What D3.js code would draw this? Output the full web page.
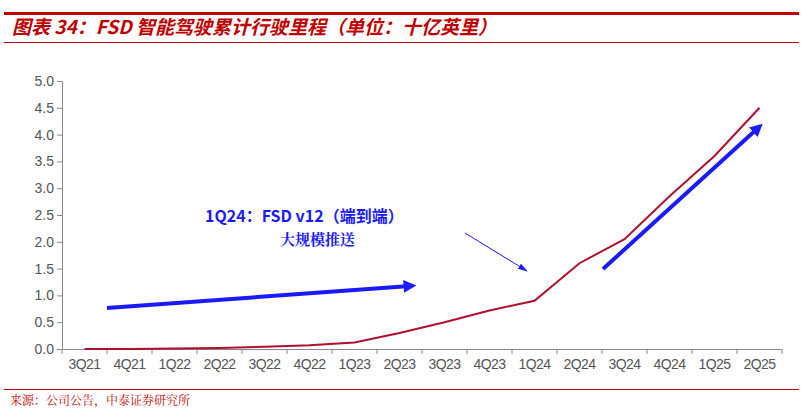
<!DOCTYPE html><html><head><meta charset="utf-8"><script src="https://d3js.org/d3.v7.min.js"></script>
<style>body{margin:0;background:#fff}</style></head><body><svg id="c" width="803" height="412"></svg>
<script>
const categories=["3Q21","4Q21","1Q22","2Q22","3Q22","4Q22","1Q23","2Q23","3Q23","4Q23","1Q24","2Q24","3Q24","4Q24","1Q25","2Q25"];
const values=[0,0,0.01,0.02,0.04,0.07,0.12,0.3,0.5,0.72,0.9,1.6,2.05,2.85,3.6,4.5];
const yTicks=[0,0.5,1,1.5,2,2.5,3,3.5,4,4.5,5];
const svg=d3.select("#c");
const F="'Liberation Sans',Arial,sans-serif";
svg.append("rect").attr("x",4).attr("y",12).attr("width",795).attr("height",3).attr("fill","#c00000");
svg.append("line").attr("x1",4).attr("x2",799).attr("y1",42.5).attr("y2",42.5).attr("stroke","#c00000");
svg.append("text").attr("x",12).attr("y",34).attr("fill","#c00000").attr("font-size",19).attr("font-weight","bold").attr("font-style","italic").attr("font-family","'Noto Sans CJK SC',sans-serif").text("图表 34：FSD 智能驾驶累计行驶里程（单位：十亿英里）");
svg.append("line").attr("x1",4).attr("x2",799).attr("y1",389.5).attr("y2",389.5).attr("stroke","#c00000");
svg.append("text").attr("x",10).attr("y",405).attr("fill","#c00000").attr("font-size",12).attr("font-family","'Noto Serif CJK SC','Noto Sans CJK SC',serif").text("来源：公司公告，中泰证券研究所");
const x=d3.scaleBand().domain(categories).range([62,782]);
const y=d3.scaleLinear().domain([0,5]).range([349,81]);
const ya=svg.append("g").attr("transform","translate(62,0)").call(d3.axisLeft(y).tickValues(yTicks).tickFormat(d3.format(".1f")).tickSize(5));
ya.selectAll("text").attr("font-size",14).attr("fill","#555").attr("font-family",F);
ya.selectAll("path,line").attr("stroke","#888");
const xa=svg.append("g").attr("transform","translate(0,349)").call(d3.axisBottom(x).tickSize(0).tickPadding(10));
xa.selectAll("text").attr("font-size",14).attr("fill","#555").attr("font-family",F).attr("letter-spacing","-0.5");
xa.selectAll("path").attr("stroke","#888");
xa.selectAll(".b").data(categories.concat([null])).enter().append("line").attr("x1",(d,i)=>62+i*x.step()).attr("x2",(d,i)=>62+i*x.step()).attr("y1",0).attr("y2",5).attr("stroke","#888");
svg.append("path").datum(values).attr("fill","none").attr("stroke","#b0102e").attr("stroke-width",2)
 .attr("d",d3.line().x((d,i)=>x(categories[i])+x.bandwidth()/2).y(d=>y(d)));
const defs=svg.append("defs");
defs.append("marker").attr("id","ah").attr("viewBox","0 0 10 10").attr("refX",5).attr("refY",5).attr("markerWidth",3.2).attr("markerHeight",3.2).attr("orient","auto").append("path").attr("d","M0,0L10,5L0,10z").attr("fill","#1a1aff");
defs.append("marker").attr("id","ah2").attr("viewBox","0 0 10 10").attr("refX",9).attr("refY",5).attr("markerWidth",10).attr("markerHeight",10).attr("orient","auto").append("path").attr("d","M0,2L10,5L0,8z").attr("fill","#1a1aff");
function arrow(x1,y1,x2,y2){svg.append("line").attr("x1",x1).attr("y1",y1).attr("x2",x2).attr("y2",y2).attr("stroke","#1a1aff").attr("stroke-width",4).attr("marker-end","url(#ah)");}
arrow(107,308,410,286);
arrow(603,269,758,128);
svg.append("line").attr("x1",465).attr("y1",233).attr("x2",527).attr("y2",271).attr("stroke","#1a1aff").attr("stroke-width",1).attr("marker-end","url(#ah2)");
svg.append("text").attr("x",205).attr("y",222).attr("fill","#1a1aff").attr("font-size",16).attr("font-weight","bold").attr("font-family","'Noto Sans CJK SC',sans-serif").text("1Q24：FSD v12（端到端）");
svg.append("text").attr("x",280).attr("y",245).attr("fill","#1a1aff").attr("font-size",15).attr("font-weight","bold").attr("font-family","'Noto Serif CJK SC','Noto Sans CJK SC',serif").text("大规模推送");
</script></body></html>
